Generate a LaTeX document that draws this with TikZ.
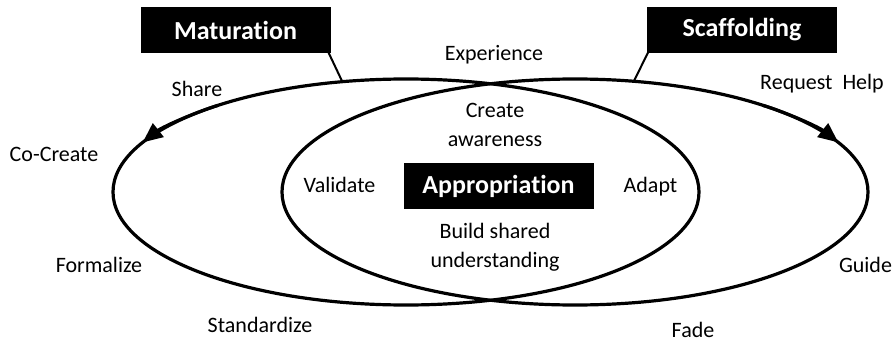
\documentclass[tikz,border=0pt]{standalone}
\usepackage{fontspec}
\setmainfont{Carlito}[Ligatures=NoCommon]
\usetikzlibrary{shapes.geometric,arrows.meta}
\begin{document}
\begin{tikzpicture}[x=1pt,y=1pt,
  loop/.style={ellipse, draw, line width=3.2pt, minimum width=586pt, minimum height=226pt, inner sep=0pt, outer sep=0pt},
  phase/.style={fill=black, text=white, font=\fontsize{26}{30}\selectfont\bfseries, minimum width=190pt, minimum height=45pt, inner sep=0pt, outer sep=0pt},
  lbl/.style={font=\fontsize{22}{29}\selectfont, anchor=base, inner sep=0pt, align=center},
  link/.style={line width=2pt},
  tip/.style={line width=3.2pt, -{Triangle[length=20pt,width=17pt]}}]
\useasboundingbox (0,0) rectangle (895,341);
\node[loop] (matloop) at (406,149) {};
\node[loop] (scafloop) at (575,149) {};
\draw[tip] (matloop.center) ++(130:293 and 113) arc[start angle=130, end angle=154, x radius=293, y radius=113];
\draw[tip] (scafloop.center) ++(50:293 and 113) arc[start angle=50, end angle=26, x radius=293, y radius=113];
\node[phase] (matbox) at (235.5,311) {Maturation};
\node[phase] (scafbox) at (742,311) {Scaffolding};
\node[phase, minimum height=46pt] (appbox) at (498.5,155) {Appropriation};
\draw[link] ([xshift=-2pt]matbox.south east) -- (matloop.120);
\draw[link] ([xshift=1pt]scafbox.south west) -- (scafloop.62);
\node[lbl] (experience) at (494,280) {Experience};
\node[lbl] (share) at (197,244) {Share};
\node[lbl] (cocreate) at (54,180) {Co-Create};
\node[lbl] (formalize) at (99,69) {Formalize};
\node[lbl] (standardize) at (260,9) {Standardize};
\node[lbl] (fade) at (693,4) {Fade};
\node[lbl] (guide) at (865.5,69) {Guide};
\node[lbl] (request) at (822,252) {Request\hspace{10pt}Help};
\node[lbl] (validate) at (339.5,149) {Validate};
\node[lbl] (adapt) at (650.5,149) {Adapt};
\node[lbl] (create) at (495,195) {Create\\awareness};
\node[lbl] (build) at (495,74) {Build shared\\understanding};
\end{tikzpicture}
\end{document}
